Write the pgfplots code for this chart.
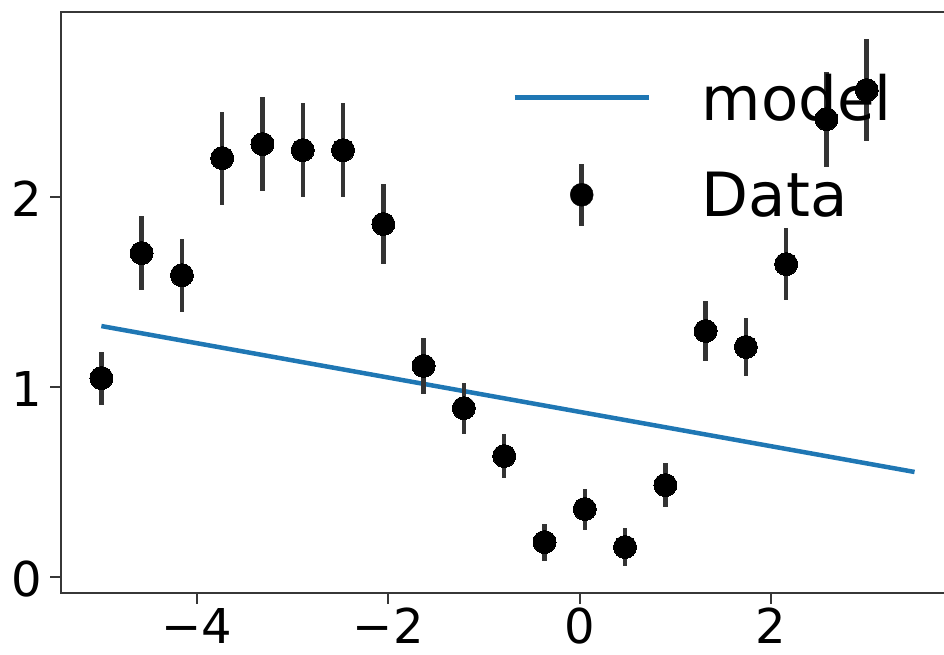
\documentclass[border=0pt]{standalone}
\usepackage{pgfplots}
\pgfplotsset{compat=1.18}
\usepackage{pgfplotstable}
\usepackage{fontspec}
\setmainfont{DejaVu Sans}
\definecolor{mplblue}{RGB}{31,119,180}
\definecolor{spine}{RGB}{55,55,55}

\pgfplotstableread{
x y e
-5.000 1.047 0.140
-4.579 1.705 0.195
-4.158 1.589 0.192
-3.737 2.205 0.245
-3.316 2.279 0.245
-2.895 2.247 0.247
-2.474 2.247 0.247
-2.053 1.858 0.210
-1.632 1.111 0.147
-1.211 0.889 0.134
-0.789 0.637 0.118
-0.368 0.184 0.097
0.053 0.358 0.108
0.474 0.158 0.098
0.895 0.484 0.116
1.316 1.295 0.160
1.737 1.211 0.153
2.158 1.647 0.190
2.579 2.410 0.250
3.000 2.563 0.270
}\datatable

\begin{document}
\begin{tikzpicture}
\begin{axis}[
  at={(0pt,0pt)}, anchor=south west,
  scale only axis,
  width=894.2pt, height=581pt,
  xmin=-5.422, xmax=3.925,
  ymin=-0.084, ymax=2.974,
  axis line style={spine, line width=2.2pt},
  tick style={spine, line width=2pt},
  tick align=outside,
  major tick length=10.7pt,
  xtick pos=left, ytick pos=left,
  xtick={-4,-2,0,2},
  xticklabels={−4,−2,0,2},
  ytick={0,1,2},
  yticklabels={0,1,2},
  ticklabel style={font=\fontsize{48}{58}\selectfont, inner sep=0pt, outer sep=0pt},
  xticklabel style={anchor=north, yshift=-4.5pt},
  yticklabel style={anchor=east, xshift=-8pt, yshift=-2pt},
  legend cell align=left,
  legend style={
    at={(0.5049,0.8938)}, anchor=north west,
    draw=none, fill=none, inner sep=0pt, outer sep=0pt,
    font=\fontsize{61}{73}\selectfont,
    nodes={inner sep=0pt, outer sep=0pt},
    row sep=40pt,
    /tikz/every odd column/.append style={column sep=51pt},
  },
]
\addplot[mplblue, line width=4.5pt,
  legend image code/.code={\draw[mplblue, line width=4.5pt] (0pt,0pt) -- (134pt,0pt);}]
  coordinates {(-5,1.321) (3.5,0.553)};
\addlegendentry{model}
\addplot[only marks, mark=*, mark size=11.5pt,
  mark options={fill=black, draw=black, line width=0pt},
  error bars/.cd, y dir=both, y explicit,
  error bar style={line width=4.5pt, black!80},
  error mark=none,
  /pgfplots/legend image code/.code={
    \draw[black!80, line width=4.5pt] (67pt,-31pt) -- (67pt,31pt);
    \fill[black] (67pt,0pt) circle (11.5pt);}]
  table[x=x, y=y, y error=e] {\datatable};
\addlegendentry{Data}
\end{axis}
\pgfresetboundingbox
\useasboundingbox (-61pt,-62pt) rectangle (883pt,593pt);
\end{tikzpicture}
\end{document}
